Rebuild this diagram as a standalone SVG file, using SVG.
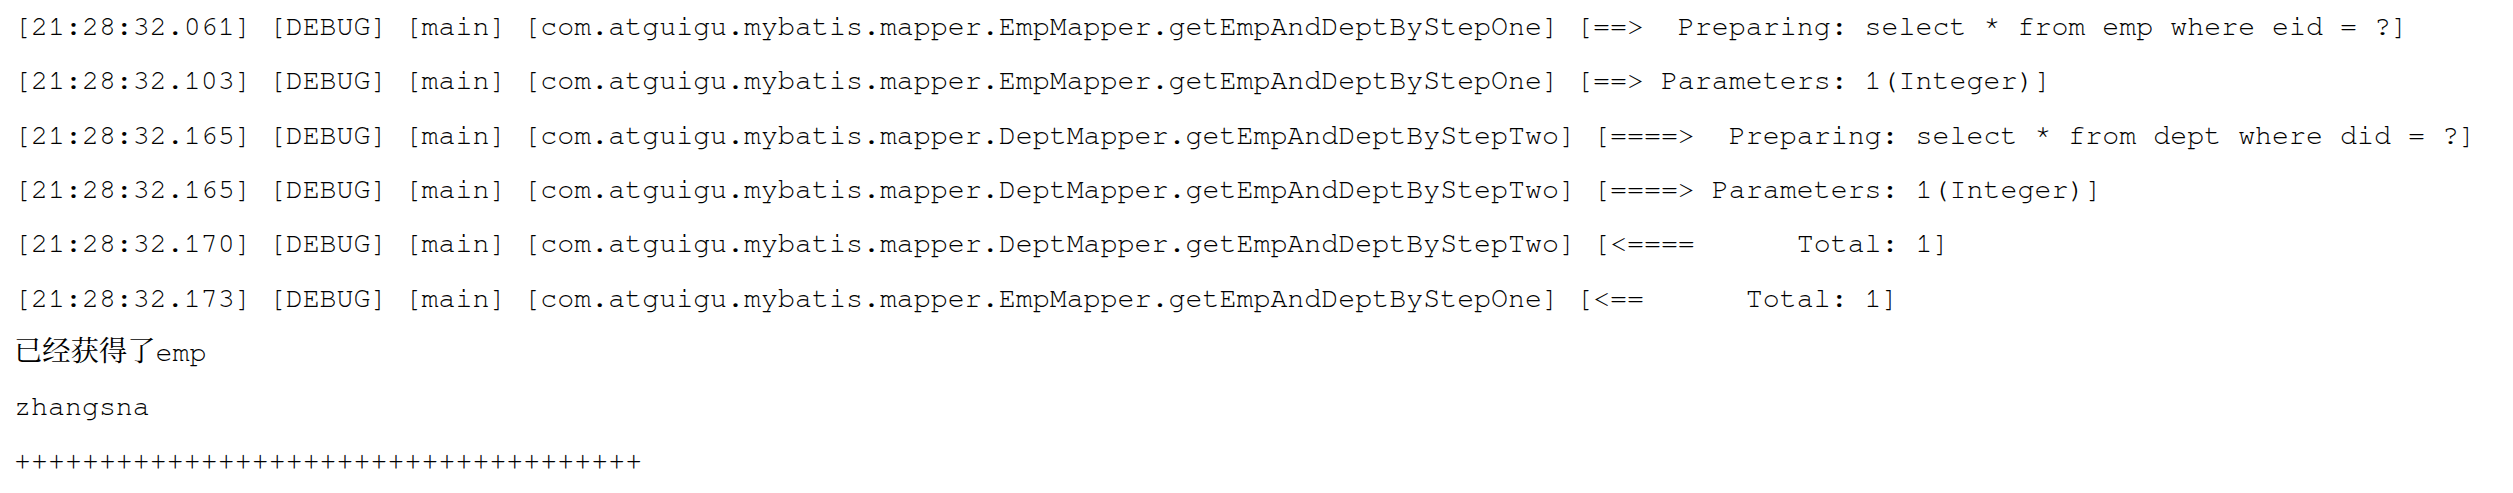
<svg xmlns="http://www.w3.org/2000/svg" width="2513" height="493" viewBox="0 0 2513 493">
<style>
  .t { font-family: "Nimbus Mono PS", "FreeMono", "Courier New", "Liberation Mono", "Noto Serif CJK SC", "Noto Sans CJK SC", monospace; font-size: 28.3px; fill: #000; white-space: pre; }
</style>
<rect width="2513" height="493" fill="#fff"/>
<g id="log">
<text class="t" x="14" y="35" xml:space="preserve">[21:28:32.061] [DEBUG] [main] [com.atguigu.mybatis.mapper.EmpMapper.getEmpAndDeptByStepOne] [==>  Preparing: select * from emp where eid = ?]</text>
<text class="t" x="14" y="89.3" xml:space="preserve">[21:28:32.103] [DEBUG] [main] [com.atguigu.mybatis.mapper.EmpMapper.getEmpAndDeptByStepOne] [==> Parameters: 1(Integer)]</text>
<text class="t" x="14" y="143.6" xml:space="preserve">[21:28:32.165] [DEBUG] [main] [com.atguigu.mybatis.mapper.DeptMapper.getEmpAndDeptByStepTwo] [====>  Preparing: select * from dept where did = ?]</text>
<text class="t" x="14" y="197.9" xml:space="preserve">[21:28:32.165] [DEBUG] [main] [com.atguigu.mybatis.mapper.DeptMapper.getEmpAndDeptByStepTwo] [====> Parameters: 1(Integer)]</text>
<text class="t" x="14" y="252.2" xml:space="preserve">[21:28:32.170] [DEBUG] [main] [com.atguigu.mybatis.mapper.DeptMapper.getEmpAndDeptByStepTwo] [&lt;====      Total: 1]</text>
<text class="t" x="14" y="306.5" xml:space="preserve">[21:28:32.173] [DEBUG] [main] [com.atguigu.mybatis.mapper.EmpMapper.getEmpAndDeptByStepOne] [&lt;==      Total: 1]</text>
<text class="t" x="14" y="360.8">已经获得了emp</text>
<text class="t" x="14" y="415.1">zhangsna</text>
<text class="t" x="14" y="469.4">+++++++++++++++++++++++++++++++++++++</text>
</g>
</svg>
